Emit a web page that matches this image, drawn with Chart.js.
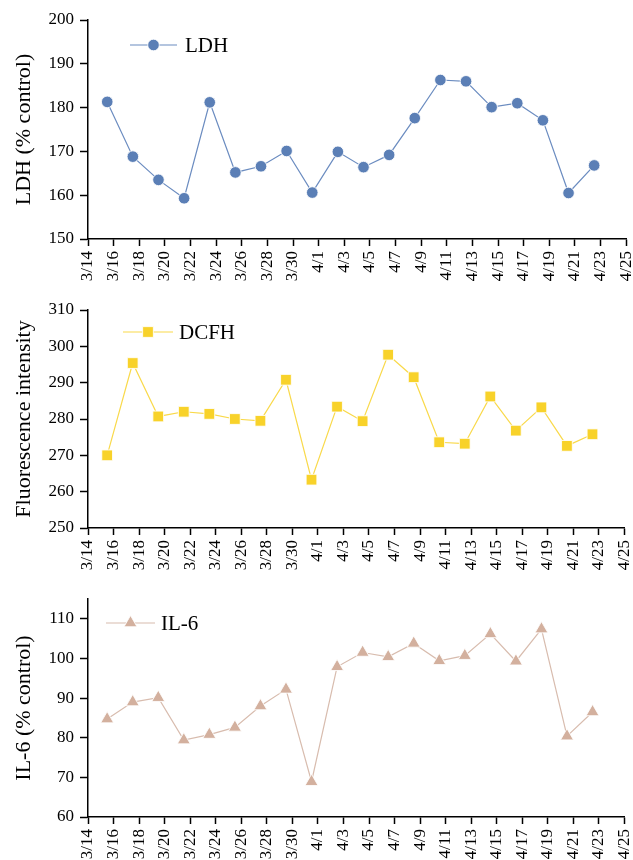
<!DOCTYPE html>
<html>
<head>
<meta charset="utf-8">
<title>LDH / DCFH / IL-6</title>
<script src="https://cdn.jsdelivr.net/npm/chart.js@4.4.0/dist/chart.umd.min.js"></script>
<style>
  html, body { margin: 0; padding: 0; background: #fff; overflow: hidden; }
  canvas { position: absolute; left: 0; }
</style>
</head>
<body>
<canvas id="ldhChart" width="633" height="290" style="top:0px"></canvas>
<canvas id="dcfhChart" width="633" height="290" style="top:290px"></canvas>
<canvas id="il6Chart" width="633" height="280" style="top:580px"></canvas>
<script>
// days counted from 3/14
const sampleDays = [1.5, 3.5, 5.5, 7.5, 9.5, 11.5, 13.5, 15.5, 17.5, 19.5,
                    21.5, 23.5, 25.5, 27.5, 29.5, 31.5, 33.5, 35.5, 37.5, 39.5];
const xTickLabels = ['3/14', '3/16', '3/18', '3/20', '3/22', '3/24', '3/26', '3/28', '3/30', '4/1', '4/3',
                     '4/5', '4/7', '4/9', '4/11', '4/13', '4/15', '4/17', '4/19', '4/21', '4/23', '4/25'];

const ldhValues  = [181.3, 168.8, 163.5, 159.3, 181.2, 165.2, 166.6, 170.1, 160.6, 169.9,
                    166.4, 169.2, 177.6, 186.3, 186.0, 180.1, 181.0, 177.1, 160.5, 166.8];
const dcfhValues = [270.0, 295.4, 280.7, 282.0, 281.4, 280.0, 279.5, 290.8, 263.3, 283.4,
                    279.4, 297.7, 291.5, 273.6, 273.2, 286.2, 276.8, 283.2, 272.6, 275.8];
const il6Values  = [84.7, 89.0, 90.1, 79.4, 80.8, 82.6, 88.0, 92.2, 68.9, 97.9,
                    101.5, 100.4, 103.8, 99.4, 100.7, 106.2, 99.3, 107.4, 80.4, 86.5];

const FONT = "'Liberation Serif', 'Times New Roman', serif";

// small legend drawn inside the plot (line - marker - name)
const inlineLegend = {
  id: 'inlineLegend',
  afterDraw(chart, args, opts) {
    const ds = chart.data.datasets[0];
    const a = chart.chartArea;
    const ctx = chart.ctx;
    const y = a.top + opts.dy;
    const x1 = a.left + opts.x1, x2 = a.left + opts.x2;
    ctx.save();
    ctx.strokeStyle = ds.borderColor;
    ctx.lineWidth = ds.borderWidth;
    ctx.beginPath();
    ctx.moveTo(x1, y);
    ctx.lineTo(x2, y);
    ctx.stroke();
    ctx.fillStyle = ds.pointBackgroundColor;
    ctx.strokeStyle = ds.pointBorderColor;
    ctx.lineWidth = ds.pointBorderWidth;
    Chart.helpers.drawPoint(ctx, {
      pointStyle: ds.pointStyle, radius: ds.pointRadius,
      borderWidth: ds.pointBorderWidth, rotation: 0
    }, (x1 + x2) / 2, y);
    ctx.fillStyle = '#000';
    ctx.font = '21px ' + FONT;
    ctx.textBaseline = 'middle';
    ctx.textAlign = 'left';
    ctx.fillText(ds.label, a.left + opts.tx, y + 1);
    ctx.restore();
  }
};

// short minor ticks on the y axis (every 5 units)
const minorTicks = {
  id: 'minorTicks',
  afterDraw(chart) {
    const s = chart.scales.y;
    const ctx = chart.ctx;
    ctx.save();
    ctx.strokeStyle = '#000';
    ctx.lineWidth = 1.5;
    s.ticks.forEach(t => {
      if (t.value % 10 !== 0) {
        const py = Math.round(s.getPixelForValue(t.value)) + 0.5;
        ctx.beginPath();
        ctx.moveTo(s.right - 4, py);
        ctx.lineTo(s.right, py);
        ctx.stroke();
      }
    });
    ctx.restore();
  }
};

function makePanel(id, opt) {
  new Chart(document.getElementById(id), {
    type: 'line',
    data: {
      datasets: [{
        label: opt.label,
        data: sampleDays.map((d, i) => ({ x: d, y: opt.values[i] })),
        borderColor: opt.lineColor,
        borderWidth: 1.2,
        pointStyle: opt.pointStyle,
        pointRadius: opt.pointRadius,
        pointBackgroundColor: opt.color,
        pointBorderColor: 'rgba(255,255,255,0.85)',
        pointBorderWidth: 1,
        tension: 0,
        clip: false
      }]
    },
    options: {
      responsive: false,
      animation: false,
      devicePixelRatio: 1,
      layout: { padding: { top: opt.padTop, right: 6, left: 0, bottom: 0 } },
      plugins: {
        legend: { display: false },
        tooltip: { enabled: false },
        inlineLegend: opt.legend
      },
      scales: {
        x: {
          type: 'linear',
          min: 0,
          max: 42,
          afterFit: s => { s.height = opt.xHeight; s.paddingLeft = 0; s.paddingRight = 0; },
          grid: { drawOnChartArea: false, drawTicks: true, tickLength: 7, tickWidth: 1.5, tickColor: '#000' },
          border: { display: true, color: '#000', width: 1.5 },
          ticks: {
            stepSize: 2,
            autoSkip: false,
            maxRotation: 90,
            minRotation: 90,
            padding: 5,
            color: '#000',
            font: { family: FONT, size: 17 },
            callback: v => xTickLabels[Math.round(v / 2)]
          }
        },
        y: {
          min: opt.yMin,
          max: opt.yMax,
          afterFit: s => { s.width = 88; s.paddingTop = 0; s.paddingBottom = 0; },
          grid: {
            drawOnChartArea: false, drawTicks: true, tickLength: 8, tickWidth: 1.5,
            tickColor: c => (c.tick && c.tick.value % 10 === 0) ? '#000' : 'rgba(0,0,0,0)'
          },
          border: { display: true, color: '#000', width: 1.5 },
          ticks: {
            stepSize: 5,
            padding: 6,
            color: '#000',
            font: { family: FONT, size: 17 },
            callback: v => (v % 10 === 0 ? v : '')
          },
          title: {
            display: true,
            text: opt.yTitle,
            color: '#000',
            font: { family: FONT, size: 22 },
            padding: { top: 11, bottom: 0 }
          }
        }
      }
    },
    plugins: [inlineLegend, minorTicks]
  });
}

makePanel('ldhChart', {
  label: 'LDH', values: ldhValues, yTitle: 'LDH (% control)',
  yMin: 150, yMax: 200, padTop: 20, xHeight: 51,
  color: '#5b7fb6', lineColor: '#6b8cc0', pointStyle: 'circle', pointRadius: 5.8,
  legend: { x1: 42, x2: 89, dy: 25, tx: 97 }
});

makePanel('dcfhChart', {
  label: 'DCFH', values: dcfhValues, yTitle: 'Fluorescence intensity',
  yMin: 250, yMax: 310, padTop: 20, xHeight: 52,
  color: '#f8d22a', lineColor: '#f9d94a', pointStyle: 'rect', pointRadius: 7.6,
  legend: { x1: 35, x2: 85, dy: 22, tx: 91 }
});

makePanel('il6Chart', {
  label: 'IL-6', values: il6Values, yTitle: 'IL-6 (% control)',
  yMin: 60, yMax: 115, padTop: 19, xHeight: 43,
  color: '#d3b09e', lineColor: '#d8bcae', pointStyle: 'triangle', pointRadius: 7.5,
  legend: { x1: 18, x2: 67, dy: 24, tx: 73 }
});
</script>
</body>
</html>
